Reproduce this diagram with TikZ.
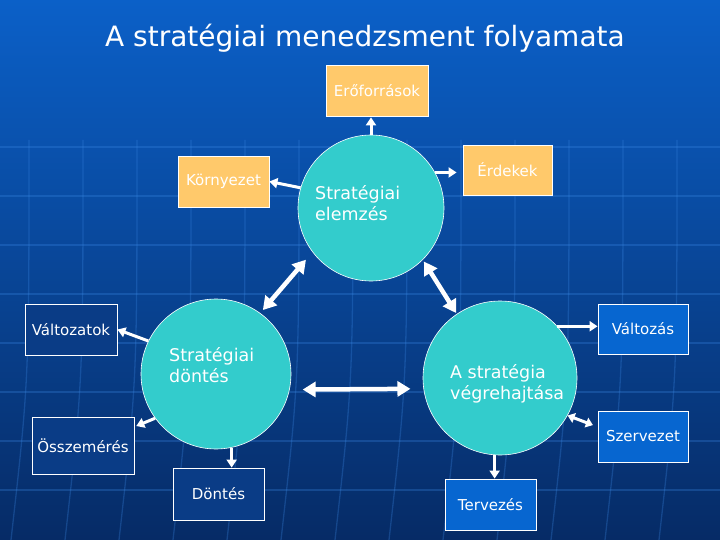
\documentclass[tikz,border=0pt]{standalone}
\usepackage{fontspec}
\setmainfont{DejaVu Sans}
\usetikzlibrary{arrows.meta}
\definecolor{bgtop}{HTML}{0B60C8}
\definecolor{bgmid}{HTML}{0A4BA3}
\definecolor{bgbot}{HTML}{062B66}
\definecolor{gridc}{HTML}{3D8BE8}
\definecolor{orng}{HTML}{FFC96B}
\definecolor{brblue}{HTML}{0766D0}
\definecolor{navybox}{HTML}{0A3C86}
\definecolor{turq}{HTML}{33CCCC}
\tikzset{
  gridline/.style={draw=gridc, opacity=0.28, line width=1.3pt},
  boxbase/.style={draw=white, line width=0.8pt, text=white, inner sep=0pt,
    font=\fontsize{15}{18}\selectfont},
  orangebox/.style={boxbase, fill=orng},
  bluebox/.style={boxbase, fill=brblue},
  navyboxst/.style={boxbase, fill=navybox},
  bigcirc/.style={circle, draw=white, line width=0.6pt, fill=turq, inner sep=0pt},
  circlabel/.style={text=white, align=left, anchor=base west, inner sep=0pt,
    font=\fontsize{17.5}{21}\selectfont},
  arr/.style={draw=white, line width=3pt, -{Triangle[length=8pt,width=10pt]}},
  darr/.style={draw=white, line width=4.5pt,
    {Triangle[length=13pt,width=15pt]}-{Triangle[length=13pt,width=15pt]}},
  sdarr/.style={draw=white, line width=3pt,
    {Triangle[length=7pt,width=10pt]}-{Triangle[length=7pt,width=10pt]}}
}
\begin{document}
\begin{tikzpicture}[x=1pt,y=-1pt]
\useasboundingbox (0,0) rectangle (720,540);
% background
\shade[top color=bgtop, middle color=bgmid, bottom color=bgbot] (0,0) rectangle (720,540);
\foreach \yy in {147,196,245,294,343,392,441,490}
  \draw[gridline] (0,\yy) -- (720,\yy);
\foreach \xx in {29,83,137,191,245,299,353,407,461,515,569,623,677}
  \draw[gridline] (\xx,140) .. controls (\xx,380) .. ({\xx-18},540);
% title
\node[text=white, font=\fontsize{28}{33}\selectfont, anchor=base] (title) at (365,47)
  {A stratégiai menedzsment folyamata};
% circles
\node[bigcirc, minimum size=146pt] (c1) at (371,208) {};
\node[bigcirc, minimum size=150pt] (c2) at (216,374) {};
\node[bigcirc, minimum size=154pt] (c3) at (500,378) {};
\node[circlabel] (t1) at (315,221) {Stratégiai\\elemzés};
\node[circlabel] (t2) at (169,382) {Stratégiai\\döntés};
\node[circlabel] (t3) at (450,399) {A stratégia\\végrehajtása};
% boxes
\node[orangebox, minimum width=102pt, minimum height=51pt] (erof) at (377,90.5) {Erőforrások};
\node[orangebox, minimum width=91pt, minimum height=51pt] (env) at (223.5,181.5) {Környezet};
\node[orangebox, minimum width=89pt, minimum height=50pt] (erd) at (507.5,170) {Érdekek};
\node[navyboxst, minimum width=92pt, minimum height=51pt] (vtok) at (71,329.5) {Változatok};
\node[bluebox, minimum width=90pt, minimum height=50pt] (vas) at (643,329) {Változás};
\node[navyboxst, minimum width=102pt, minimum height=57pt] (ossz) at (83,445.5) {Összemérés};
\node[bluebox, minimum width=90pt, minimum height=51pt] (szer) at (643,436.5) {Szervezet};
\node[navyboxst, minimum width=91pt, minimum height=52pt] (dont) at (218.5,494) {Döntés};
\node[bluebox, minimum width=91pt, minimum height=51pt] (terv) at (490.5,504.5) {Tervezés};
% arrows
\draw[arr, shorten >=1pt] (c1.north) -- (c1.north |- erof.south);
\draw[arr] (c1.164) -- (env.east);
\draw[arr, shorten >=6pt] (c1.29) -- (c1.29 -| erd.west);
\draw[darr, shorten <=10pt, shorten >=4pt] (c1.217) -- (c2.54);
\draw[darr, shorten <=2pt, shorten >=1pt] (c1.315) -- (c3.124);
\draw[darr, shorten <=13pt, shorten >=13pt] (c2.348) -- (c3.188);
\draw[arr] (c2.154) -- (vtok.east);
\draw[arr, shorten >=2pt] (c2.216) -- (ossz.20);
\draw[arr] (c2.282) -- (c2.282 |- dont.north);
\draw[arr] (c3.42) -- (c3.42 -| vas.west);
\draw[sdarr, shorten >=5pt] (c3.331) -- (szer.168);
\draw[arr] (c3.266) -- (c3.266 |- terv.north);
\end{tikzpicture}
\end{document}
